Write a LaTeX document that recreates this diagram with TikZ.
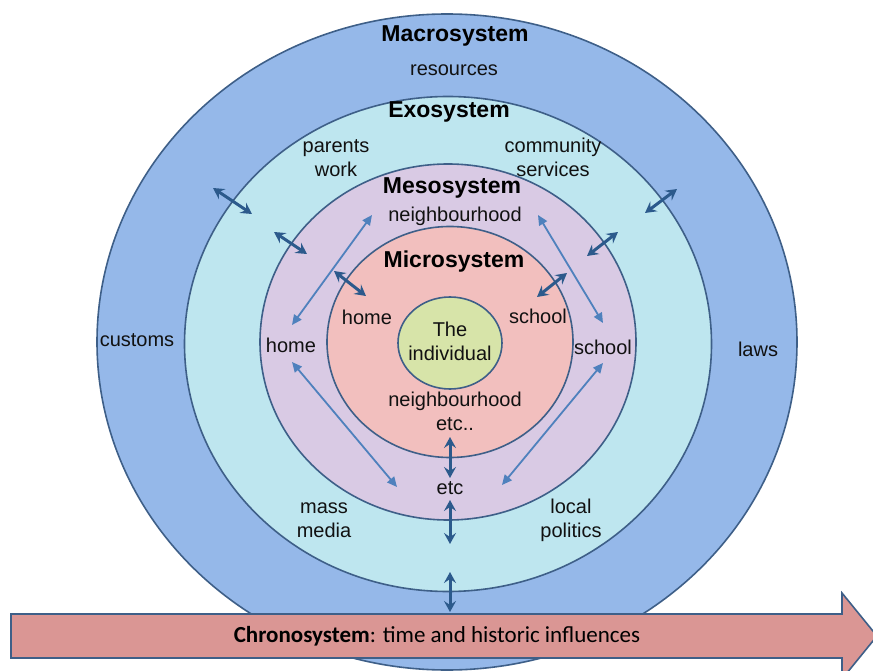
\documentclass[tikz,border=0pt]{standalone}
\usepackage{fontspec}
\setmainfont{Liberation Sans}
\newfontfamily\chronofont{Carlito}
\usepackage{xcolor}
\usetikzlibrary{positioning, arrows.meta, shapes.geometric}

\definecolor{macrofill}{HTML}{95B8E9}
\definecolor{exofill}{HTML}{BEE6EF}
\definecolor{mesofill}{HTML}{D9CAE4}
\definecolor{microfill}{HTML}{F2BFBE}
\definecolor{selffill}{HTML}{D7E4A9}
\definecolor{ringline}{HTML}{3E5F88}
\definecolor{darklink}{HTML}{2C5A8C}
\definecolor{lightlink}{HTML}{4F81BD}
\definecolor{chronofill}{HTML}{DA9694}
\definecolor{txt}{HTML}{111111}

\begin{document}
\begin{tikzpicture}[
    x=1pt, y=-1pt,
    ring/.style={
        ellipse,
        draw=ringline,
        line width=1.6pt,
        inner sep=0pt
    },
    words/.style={
        align=center,
        inner sep=0pt,
        text=txt,
        font=\fontsize{20}{24}\selectfont
    },
    heading/.style={
        inner sep=0pt,
        text=black,
        font=\fontsize{23}{27}\selectfont\bfseries
    },
    link/.style={
        draw=darklink,
        line width=3pt,
        {Stealth[length=11pt, width=12pt, inset=4pt]}-{Stealth[length=11pt, width=12pt, inset=4pt]}
    },
    mesolink/.style={
        draw=lightlink,
        line width=1.8pt,
        {Triangle[length=10pt, width=9pt]}-{Triangle[length=10pt, width=9pt]}
    }
]
\useasboundingbox (0,0) rectangle (873,671);
\clip (0,0) rectangle (873,671);

% Rings
\node[ring, fill=macrofill, minimum width=700pt, minimum height=656pt] (macro) at (447,342) {};
\node[ring, fill=exofill, minimum width=527pt, minimum height=495pt] (exo) at (448,344) {};
\node[ring, fill=mesofill, minimum width=376pt, minimum height=356pt] (meso) at (448,342) {};
\node[ring, fill=microfill, minimum width=246pt, minimum height=231pt] (micro) at (450,342) {};
\node[ring, fill=selffill, minimum width=104pt, minimum height=92pt] (self) at (450,343) {};

% Chronosystem arrow
\draw[draw=ringline, fill=chronofill, line width=1.6pt]
  (11,614) -- (842,614) -- (842,593) -- (877,636) -- (842,679) -- (842,658) -- (11,658) -- cycle;
\node[inner sep=0pt, font=\chronofont\fontsize{23}{27}\selectfont] (chrono) at (437,636)
  {\textbf{Chronosystem}: time and historic influences};

% Labels
\node[heading] (macrottl) at (455,36) {Macrosystem};
\node[words] (resources) at (454,70) {resources};
\node[words] (customs) at (137,340) {customs};
\node[words] (laws) at (758,349) {laws};

\node[heading] (exottl) at (449,112) {Exosystem};
\node[words] (parents) at (336,158) {parents\\work};
\node[words] (community) at (553,157) {community\\services};
\node[words] (media) at (324,520) {mass\\media};
\node[words] (politics) at (571,520) {local\\politics};

\node[heading] (mesottl) at (452,188) {Mesosystem};
\node[words] (mesonbh) at (455,216) {neighbourhood};
\node[words] (mesohome) at (291,345) {home};
\node[words] (mesoschool) at (603,347) {school};
\node[words] (mesoetc) at (450,488) {etc};

\node[heading] (microttl) at (454,262) {Microsystem};
\node[words] (microhome) at (367,317) {home};
\node[words] (microschool) at (538,316) {school};
\node[words] (micronbh) at (455,411) {neighbourhood\\etc..};
\node[words] (selftxt) at (450,341) {The\\individual};

% Link ends
\coordinate (maxl) at (213,188);
\coordinate (exl) at (252,214);
\coordinate (maxr) at (677,189);
\coordinate (exr) at (645,213);
\coordinate (exl2) at (274,232);
\coordinate (mel) at (307,254);
\coordinate (exr2) at (618,232);
\coordinate (mer) at (587,256);
\coordinate (mel2) at (334,271);
\coordinate (mil) at (366,296);
\coordinate (mer2) at (567,273);
\coordinate (mir) at (537,297);
\coordinate (mib) at (450,437);
\coordinate (meb) at (450,478);
\coordinate (meb2) at (450,500);
\coordinate (exb) at (450,544);
\coordinate (exb2) at (450,572);
\coordinate (chtop) at (450,612);

\coordinate (hometop) at (292,325);
\coordinate (nbhleft) at (372,215);
\coordinate (nbhright) at (538,215);
\coordinate (schooltop) at (603,323);
\coordinate (homebot) at (292,362);
\coordinate (etcleft) at (397,487);
\coordinate (schoolbot) at (603,363);
\coordinate (etcright) at (502,485);

% Links between systems
\draw[link] (maxl) -- (exl);
\draw[link] (maxr) -- (exr);
\draw[link] (exl2) -- (mel);
\draw[link] (exr2) -- (mer);
\draw[link] (mel2) -- (mil);
\draw[link] (mer2) -- (mir);
\draw[link] (mib) -- (meb);
\draw[link] (meb2) -- (exb);
\draw[link] (exb2) -- (chtop);

% Links inside the mesosystem
\draw[mesolink] (hometop) -- (nbhleft);
\draw[mesolink] (nbhright) -- (schooltop);
\draw[mesolink] (homebot) -- (etcleft);
\draw[mesolink] (schoolbot) -- (etcright);

\end{tikzpicture}
\end{document}
